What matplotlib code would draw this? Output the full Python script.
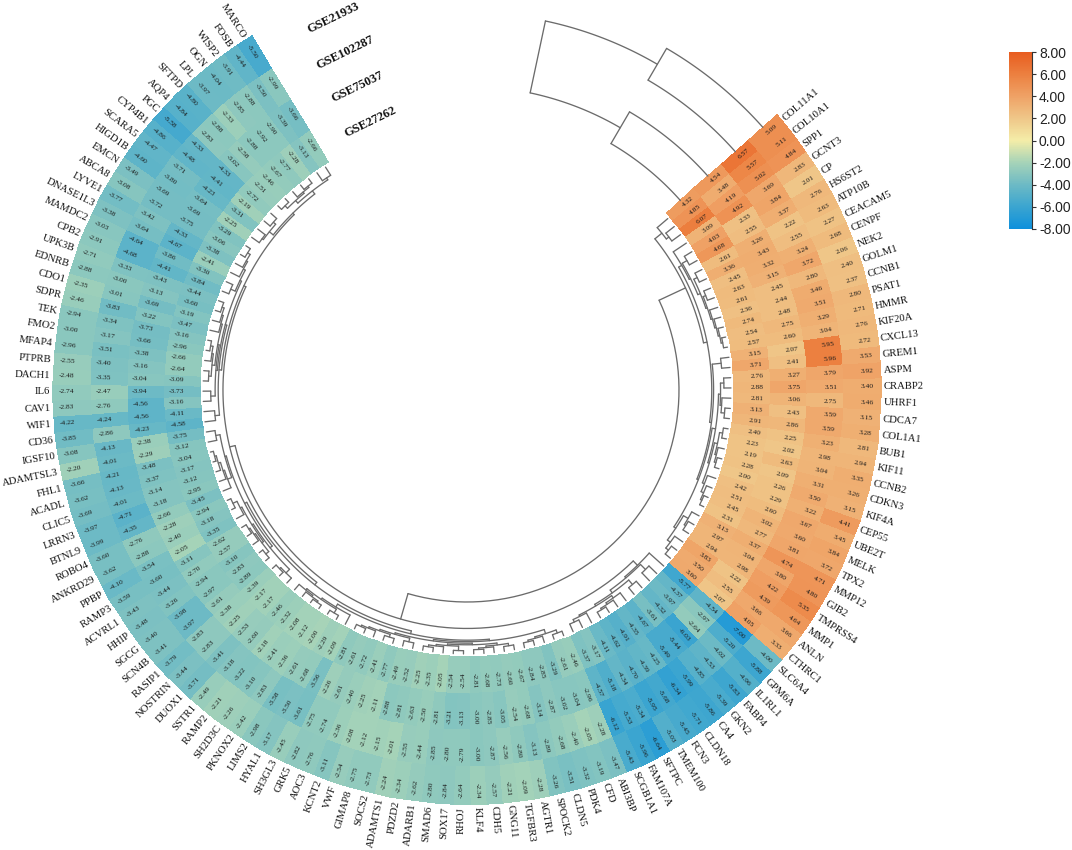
import matplotlib
matplotlib.use("Agg")
import matplotlib.pyplot as plt
from matplotlib.colors import LinearSegmentedColormap, Normalize
import numpy as np

genes = ["COL11A1","COL10A1","SPP1","GCNT3","CP","HS6ST2","ATP10B","CEACAM5","CENPF","NEK2","GOLM1","CCNB1","PSAT1","HMMR",
         "KIF20A","CXCL13","GREM1","ASPM","CRABP2","UHRF1","CDCA7","COL1A1","BUB1","KIF11","CCNB2","CDKN3","KIF4A","CEP55",
         "UBE2T","MELK","TPX2","MMP12","GJB2","TMPRSS4","MMP1","ANLN","CTHRC1",
         "SLC6A4","GPM6A","IL1RL1","FABP4","GKN2","CA4","CLDN18","FCN3","TMEM100","SFTPC","FAM107A","SCGB1A1","ABI3BP","CFD",
         "PDK4","CLDN5","SPOCK2","AGTR1","TGFBR3","GNG11","CDH5","KLF4","RHOJ","SOX17","SMAD6","ADARB1","PDZD2","ADAMTS1",
         "SOCS2","GIMAP8","VWF","KCNT2","AOC3","GRK5","SH3GL3","HYAL1","LIMS2","PKNOX2","SH2D3C","RAMP2","SSTR1","DUOX1",
         "NOSTRIN","RASIP1","SCN4B","SGCG","HHIP","ACVRL1","RAMP3","PPBP","ANKRD29","ROBO4","BTNL9","LRRN3","CLIC5","ACADL",
         "FHL1","ADAMTSL3","IGSF10","CD36","WIF1","CAV1","IL6","DACH1","PTPRB","MFAP4","FMO2","TEK","SDPR","CDO1","EDNRB",
         "UPK3B","CPB2","MAMDC2","DNASE1L3","LYVE1","ABCA8","EMCN","HIGD1B","SCARA5","CYP4B1","PGC","AQP4","SFTPD","LPL",
         "OGN","WISP2","FOSB","MARCO"]

# outer ring to inner ring
gse21933 = [5.09,5.11,4.84,2.83,2.01,2.76,2.63,2.27,2.68,2.06,2.40,2.37,2.80,2.71,2.76,2.72,3.53,3.92,3.40,3.46,3.15,3.28,
            2.81,2.94,3.35,3.26,3.15,4.41,3.45,3.84,3.72,4.71,4.80,5.35,4.64,3.66,3.33,
            -4.00,-5.88,-4.96,-5.83,-5.39,-5.86,-5.71,-5.45,-5.03,-6.64,-5.96,-5.43,-3.47,-3.19,-3.32,-3.51,-3.26,-2.28,
            -2.09,-2.21,-2.57,-2.34,-2.64,-2.84,-2.80,-2.62,-2.34,-2.24,-2.73,-2.75,-2.54,-3.11,-2.76,-2.82,-2.45,-3.17,
            -2.98,-2.42,-2.26,-2.21,-2.49,-3.71,-3.44,-3.79,-3.41,-3.40,-3.48,-3.43,-3.59,-4.10,-3.62,-3.60,-3.99,-3.97,
            -3.69,-3.62,-3.66,-2.20,-3.08,-3.85,-4.22,-2.83,-2.74,-2.48,-2.55,-2.96,-3.00,-2.94,-2.46,-2.35,-2.88,-2.71,
            -2.91,-3.03,-3.38,-3.77,-3.08,-3.49,-4.60,-4.47,-4.86,-5.58,-4.84,-4.80,-3.97,-4.04,-3.91,-4.44,-5.50]
gse102287 = [6.57,5.57,5.02,3.69,3.84,3.37,2.22,2.55,3.24,3.72,2.80,3.46,3.51,3.29,3.04,5.95,5.96,3.79,3.51,2.75,3.59,3.59,
             3.23,2.98,3.04,3.31,3.50,3.22,3.67,3.60,3.81,4.74,3.80,4.22,4.39,3.66,4.05,
             -7.00,-5.20,-4.02,-4.53,-4.85,-5.99,-6.34,-5.68,-5.95,-5.34,-5.53,-6.12,-2.28,-2.05,-2.40,-2.68,-2.89,-3.13,
             -2.80,-2.56,-2.87,-3.00,-2.79,-2.80,-2.85,-2.44,-2.55,-2.01,-2.15,-2.12,-2.08,-2.36,-2.74,-2.75,-3.61,-3.50,
             -3.58,-2.83,-3.10,-3.22,-3.18,-3.41,-2.83,-2.83,-3.97,-3.98,-3.26,-3.44,-3.60,-3.54,-2.88,-2.76,-4.35,-4.71,
             -4.01,-4.13,-4.21,-4.01,-4.13,-2.86,-4.24,-2.76,-2.47,-3.35,-3.40,-3.51,-3.17,-3.34,-3.83,-3.01,-3.00,-3.33,
             -4.68,-4.64,-3.64,-3.42,-3.72,-3.69,-3.80,-3.71,-4.48,-4.33,-2.83,-2.88,-2.33,-2.85,-2.88,-3.50,-2.99]
gse75037 = [4.54,3.48,4.19,4.92,2.33,2.55,3.26,3.43,3.32,3.15,2.45,2.44,2.48,2.75,2.60,2.07,2.41,3.27,3.75,3.06,2.43,2.86,
            2.25,2.02,2.63,2.09,2.26,2.29,2.60,3.02,2.77,3.37,3.04,2.98,2.22,2.55,2.07,
            -4.54,-2.97,-2.64,-6.03,-5.44,-5.49,-4.25,-4.39,-4.70,-4.34,-5.18,-4.57,-2.96,-3.04,-3.02,-2.87,-3.14,-2.68,
            -2.54,-3.05,-2.85,-3.00,-3.13,-3.21,-2.81,-2.50,-2.63,-2.81,-2.88,-2.11,-2.25,-2.40,-2.61,-2.26,-3.56,-2.68,
            -2.61,-2.36,-2.41,-2.18,-2.60,-2.53,-2.25,-2.38,-2.61,-2.97,-2.94,-2.70,-3.11,-2.05,-2.40,-2.28,-2.66,-3.18,
            -3.14,-3.37,-3.48,-2.29,-2.38,-4.23,-4.56,-4.56,-3.94,-3.04,-3.16,-3.38,-3.66,-3.73,-3.22,-3.69,-3.13,-3.43,
            -4.41,-3.86,-4.67,-4.33,-3.75,-3.69,-3.64,-4.23,-4.41,-4.33,-3.02,-2.58,-2.88,-2.92,-2.90,-3.39,-3.66]
gse27262 = [4.32,4.85,6.07,3.09,4.03,4.68,2.61,3.36,2.45,2.63,2.61,2.36,2.74,2.54,2.57,3.15,3.71,2.76,2.88,2.81,3.13,2.91,
            2.40,2.23,2.19,2.28,2.00,2.42,2.51,2.45,2.31,3.13,2.97,2.94,3.83,3.50,3.60,
            -5.77,-4.37,-3.97,-4.32,-3.61,-4.67,-4.35,-4.91,-4.62,-4.11,-3.17,-3.37,-2.46,-2.61,-3.29,-2.85,-2.84,-2.67,
            -2.60,-2.73,-2.68,-2.81,-2.54,-2.54,-2.05,-2.35,-2.25,-2.52,-2.49,-2.77,-2.41,-2.72,-2.61,-2.81,-2.09,-2.29,
            -2.00,-2.12,-2.08,-2.32,-2.46,-2.17,-2.17,-2.39,-2.89,-2.83,-3.10,-2.57,-2.62,-3.35,-3.18,-2.94,-3.45,-2.95,
            -3.12,-3.17,-3.04,-3.12,-3.75,-4.58,-4.11,-3.16,-3.73,-3.09,-2.64,-2.66,-2.96,-3.16,-3.47,-3.19,-3.60,-3.44,
            -3.84,-3.30,-2.41,-3.38,-3.06,-3.29,-2.25,-3.31,-2.19,-2.72,-2.51,-2.46,-2.67,-2.77,-2.28,-3.13,-2.66]

datasets = ["GSE21933", "GSE102287", "GSE75037", "GSE27262"]
cbar_ticks = [8, 6, 4, 2, 0, -2, -4, -6, -8]

plt.rcParams['font.family'] = ['Liberation Serif', 'DejaVu Serif']

W, H = 1072, 850
cx, cy = 467, 390
r_max = 540
r_in, r_out = 267, 414
start, end = np.radians(48.4), np.radians(328.7)
line_col = "#6b6b6b"

cmap = LinearSegmentedColormap.from_list("deg", [
    (0.0, "#0E90DC"), (0.125, "#3BA5D0"), (0.25, "#6DBAC5"), (0.375, "#A6D3B8"),
    (0.5, "#F4EDA8"), (0.625, "#EFC789"), (0.75, "#EFA266"), (0.875, "#EC8040"), (1.0, "#E85C1F")])
norm = Normalize(-8, 8)

fig = plt.figure(figsize=(W / 100, H / 100), dpi=100)
ax = fig.add_axes([(cx - r_max) / W, 1 - (cy + r_max) / H, 2 * r_max / W, 2 * r_max / H], projection="polar")
ax.set_theta_zero_location("N")
ax.set_theta_direction(-1)
ax.set_rlim(0, r_max)
ax.axis("off")

rings = [gse21933, gse102287, gse75037, gse27262]
mat = np.array(rings[::-1])  # inner ring first
n = len(genes)
th_edges = np.linspace(start, end, n + 1)
th_mid = (th_edges[:-1] + th_edges[1:]) / 2
r_edges = np.linspace(r_in, r_out, 5)
r_mid = (r_edges[:-1] + r_edges[1:]) / 2
mesh = ax.pcolormesh(th_edges, r_edges, mat, cmap=cmap, norm=norm, edgecolor="face", linewidth=0.2)


def radial_rotation(theta):
    deg = np.degrees(theta)
    if deg <= 180:
        return 90 - deg, "left"
    return 270 - deg, "right"


for i, g in enumerate(genes):
    rot, ha = radial_rotation(th_mid[i])
    ax.text(th_mid[i], r_out + 3, g, rotation=rot, rotation_mode="anchor", ha=ha, va="center",
            fontsize=7.7, color="#111111")
    for j in range(4):
        ax.text(th_mid[i], r_mid[j] + 5, "%.2f" % mat[j, i], rotation=rot, rotation_mode="anchor",
                ha="center", va="center", fontsize=5.4, color="#1a1a1a")

for j, name in enumerate(datasets):
    ax.text(np.radians(340.2), r_mid[3 - j], name, rotation=26, ha="center", va="center",
            fontsize=9, fontweight="bold", color="#111111")


def arc(t0, t1, r):
    ts = np.linspace(t0, t1, 60)
    ax.plot(ts, np.full(ts.shape, r), color=line_col, lw=0.95, solid_capstyle="round")


def spoke(t, r0, r1):
    ax.plot([t, t], [r0, r1], color=line_col, lw=0.95, solid_capstyle="round")


# gene dendrogram, adjacent clusters merged by largest member distance so the leaf order stays
leaf_r = 264
nodes = [{"t": th_mid[i], "r": leaf_r, "idx": [i]} for i in range(n)]
dist_all = np.linalg.norm(mat.T[:, None, :] - mat.T[None, :, :], axis=2)
while len(nodes) > 1:
    d = [dist_all[np.ix_(nodes[k]["idx"], nodes[k + 1]["idx"])].max() for k in range(len(nodes) - 1)]
    k = int(np.argmin(d))
    a, b = nodes[k], nodes[k + 1]
    r = leaf_r - 52 * (d[k] / dist_all.max()) ** 0.6
    r = max(min(r, a["r"] - 1.5, b["r"] - 1.5), 212)
    spoke(a["t"], a["r"], r)
    spoke(b["t"], b["r"], r)
    arc(a["t"], b["t"], r)
    nodes[k:k + 2] = [{"t": (a["t"] + b["t"]) / 2, "r": r, "idx": a["idx"] + b["idx"]}]

# dataset dendrogram in the gap
gap_t = np.radians(30.3)
root_t = np.radians(12.0)
top_r = (r_mid[3] + r_mid[2]) / 2
low_r = (r_mid[1] + r_mid[0]) / 2
for j in range(4):
    arc(gap_t, start, r_mid[j])
spoke(gap_t, r_mid[3], r_mid[2])
spoke(gap_t, r_mid[1], r_mid[0])
arc(root_t, gap_t, top_r)
arc(root_t, gap_t, low_r)
spoke(root_t, low_r, top_r)

# colour bar
cax = fig.add_axes([1009 / W, 1 - 229 / H, 23 / W, 177 / H])
cb = fig.colorbar(mesh, cax=cax, ticks=cbar_ticks, format="%.2f")
cb.outline.set_visible(False)
cax.spines["right"].set_visible(True)
cax.spines["right"].set_color("#333333")
cax.tick_params(length=3, width=0.8, color="#333333", pad=2, labelsize=10)
for lab in cax.get_yticklabels():
    lab.set_fontfamily("Liberation Sans")
    lab.set_color("#222222")

fig.savefig("out.png", dpi=100)
